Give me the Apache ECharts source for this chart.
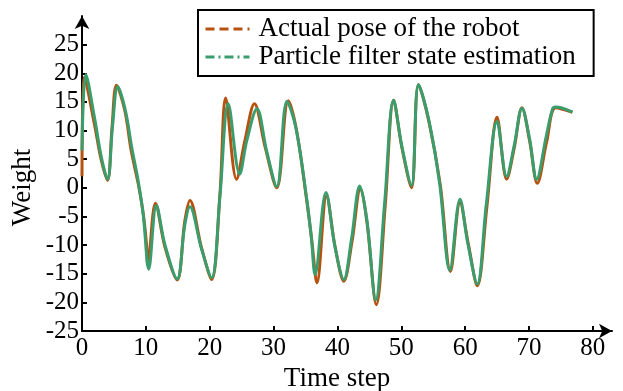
<!DOCTYPE html>
<html>
<head>
<meta charset="utf-8">
<script src="https://cdn.jsdelivr.net/npm/echarts@6/dist/echarts.min.js"></script>
<style>
  html, body { margin: 0; padding: 0; background: #fff; }
  #chart { width: 623px; height: 391px; }
</style>
</head>
<body>
<div id="chart"></div>
<script>
// [time step, weight] (peaks, troughs and a few points between)
const actualPose = [
  [0, 2.0], [0.4, 19.3], [2, 10.8], [3, 4.9], [4.0, 1.3], [4.7, 10.5], [5.4, 17.9],
  [6.7, 13.5], [7.7, 6.5], [8.8, 0.7], [9.6, -4.6], [10.1, -9.8], [10.3, -13.4],
  [11.5, -2.7], [13.0, -10.4], [14.9, -16.1], [16.1, -5.8], [16.9, -2.2], [18.7, -10.4],
  [20.3, -16.0], [21.6, -1.1], [22.5, 15.7], [24.2, 1.5], [25.5, 8.2], [27.0, 14.7],
  [28.7, 7.0], [30.5, 0.0], [32.3, 15.2], [33.6, 10.0], [35.2, -2.3], [36.0, -9.3],
  [36.8, -16.6], [38.3, -1.4], [39.65, -10.4], [41.0, -16.3], [42.3, -9.3], [43.6, -0.2],
  [44.6, -5.8], [46.1, -20.4], [47.5, -2.9], [48.8, 15.3], [50.1, 7.0], [51.6, 0.0],
  [52.7, 18.0], [54.3, 11.7], [56.1, 0.6], [57.7, -14.6], [59.2, -2.6], [60.5, -9.8],
  [61.9, -17.1], [63.4, -3.4], [65.0, 12.3], [66.5, 1.5], [67.7, 7.0], [68.9, 14.0],
  [70.1, 8.2], [71.3, 0.8], [72.8, 8.2], [74.2, 14.0], [76.8, 13.2]
]
const pfEstimate = [
  [0, 6.5], [0.6, 19.8], [2, 12.0], [3, 5.5], [4.0, 1.5], [4.8, 11.0], [5.6, 17.7],
  [6.8, 13.5], [7.8, 7.0], [8.8, 1.2], [9.6, -4.8], [10.45, -14.2], [11.65, -3.1],
  [13.0, -10.0], [14.9, -15.9], [16.1, -6.5], [16.9, -3.3], [18.7, -10.6], [20.3, -15.7],
  [21.6, -1.5], [22.9, 14.7], [24.7, 2.4], [25.8, 8.2], [27.4, 13.8], [28.9, 6.5],
  [30.5, 0.2], [32.1, 15.1], [33.5, 10.5], [35.2, -2.0], [35.9, -8.5], [36.5, -15.1],
  [38.2, -0.8], [39.6, -10.2], [41.0, -16.0], [42.2, -9.0], [43.5, 0.3], [44.6, -5.5],
  [46.0, -19.6], [47.4, -2.5], [48.8, 15.3], [50.1, 7.2], [51.6, 0.4], [52.7, 18.0],
  [54.3, 11.9], [56.0, 0.8], [57.6, -14.4], [59.2, -2.0], [60.4, -9.6], [61.9, -16.8],
  [63.3, -3.0], [65.0, 11.6], [66.5, 2.0], [67.7, 7.5], [68.9, 13.9], [70.1, 8.5],
  [71.2, 1.5], [72.7, 9.0], [73.7, 13.8], [74.2, 14.1], [76.8, 13.2]
]
const xTicks = [0, 10, 20, 30, 40, 50, 60, 70, 80]
const yTicks = [-25, -20, -15, -10, -5, 0, 5, 10, 15, 20, 25]
const seriesNames = ["Actual pose of the robot", "Particle filter state estimation"]

const font = "'Liberation Serif', 'Times New Roman', serif"
const brown = "#B5520F"
const green = "#3A9D6E"

const axisCommon = {
  axisLine: { show: true, onZero: false, symbol: ["none", "arrow"], symbolSize: [11, 13], lineStyle: { color: "#000", width: 2 } },
  axisTick: { inside: true, length: 5, lineStyle: { color: "#000", width: 2 } },
  splitLine: { show: false }
}

const myChart = echarts.init(document.getElementById("chart"))

myChart.setOption({
  animation: false,
  grid: { left: 82, right: 11, top: 16, bottom: 60, outerBoundsMode: "none" },
  legend: {
    orient: "vertical",
    left: 198,
    top: 10,
    padding: [5, 18, 5, 6],
    borderColor: "#000",
    borderWidth: 2,
    itemWidth: 44,
    itemHeight: 14,
    itemGap: 0,
    textStyle: { color: "#000", fontFamily: font, fontSize: 27, lineHeight: 28, padding: [0, 0, 0, 4] },
    data: [
      { name: seriesNames[0], itemStyle: { opacity: 0 }, lineStyle: { type: [9, 5], width: 3 } },
      { name: seriesNames[1], itemStyle: { opacity: 0 }, lineStyle: { type: [9, 4, 2, 4], width: 3 } }
    ]
  },
  xAxis: {
    ...axisCommon,
    type: "value",
    min: 0,
    max: 83,
    interval: 10,
    name: "Time step",
    nameLocation: "middle",
    nameGap: 32,
    nameTextStyle: { color: "#000", fontFamily: font, fontSize: 27, padding: [0, 20, 0, 0] },
    axisTick: { ...axisCommon.axisTick, customValues: xTicks },
    axisLabel: { customValues: xTicks, color: "#000", fontFamily: font, fontSize: 25, margin: 5 }
  },
  yAxis: {
    ...axisCommon,
    type: "value",
    min: -25,
    max: 30,
    interval: 5,
    name: "Weight",
    nameLocation: "middle",
    nameGap: 46,
    nameMoveOverlap: false,
    nameTextStyle: { color: "#000", fontFamily: font, fontSize: 27, padding: [0, 28, 0, 0] },
    axisTick: { ...axisCommon.axisTick, customValues: yTicks },
    axisLabel: { customValues: yTicks, color: "#000", fontFamily: font, fontSize: 25, margin: 3 }
  },
  series: [
    {
      name: seriesNames[0],
      type: "line",
      data: actualPose,
      smooth: 0.35,
      symbol: "none",
      lineStyle: { color: brown, width: 3 },
      itemStyle: { color: brown }
    },
    {
      name: seriesNames[1],
      type: "line",
      data: pfEstimate,
      smooth: 0.35,
      symbol: "none",
      lineStyle: { color: green, width: 3 },
      itemStyle: { color: green }
    }
  ]
})
</script>
</body>
</html>
